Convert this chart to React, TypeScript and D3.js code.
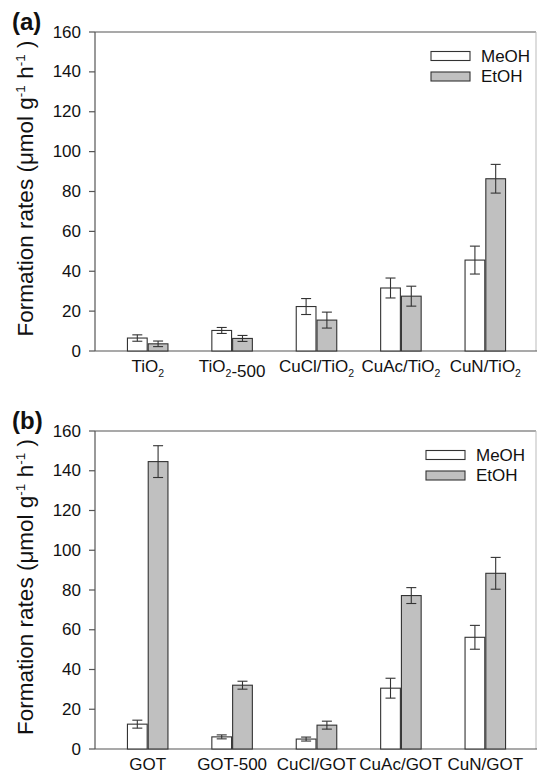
import React from 'react';
import * as d3 from 'd3';

// series names
const series = ['MeOH', 'EtOH'];

// panel (a): TiO2 supports
const categoriesA = ['TiO2', 'TiO2-500', 'CuCl/TiO2', 'CuAc/TiO2', 'CuN/TiO2'];
const meohA = [6.5, 10.3, 22.3, 31.6, 45.6];
const meohErrA = [1.6, 1.5, 4, 5, 7];
const etohA = [3.6, 6.3, 15.5, 27.5, 86.4];
const etohErrA = [1.4, 1.5, 4, 5, 7.2];

// panel (b): GOT supports
const categoriesB = ['GOT', 'GOT-500', 'CuCl/GOT', 'CuAc/GOT', 'CuN/GOT'];
const meohB = [12.5, 6.1, 5, 30.6, 56.2];
const meohErrB = [2, 1, 1, 5, 6];
const etohB = [144.6, 32.1, 12, 77.2, 88.4];
const etohErrB = [8, 2, 2, 4, 8];

// y axis ticks
const yTicks = [0, 20, 40, 60, 80, 100, 120, 140, 160];

const W = 537;
const H = 773;
const font = 'Arial, "Liberation Sans", Helvetica, sans-serif';
const fills = ['#ffffff', '#c0c0c0'];

// turns "TiO2" into TiO with a subscript 2
const renderLabel = (label: string) => {
  const parts = label.split(/(?<=TiO)2/);
  const out: React.ReactNode[] = [];
  parts.forEach((p, i) => {
    out.push(<tspan key={'p' + i}>{p}</tspan>);
    if (i < parts.length - 1) {
      out.push(
        <tspan key={'s' + i} fontSize={10.5} dy={4.5}>
          2
        </tspan>
      );
      out.push(<tspan key={'r' + i} dy={-4.5}></tspan>);
    }
  });
  return out;
};

type PanelProps = {
  tag: string;
  top: number;
  bottom: number;
  legendX: number;
  categories: string[];
  meoh: number[];
  meohErr: number[];
  etoh: number[];
  etohErr: number[];
};

const Panel = ({ tag, top, bottom, legendX, categories, meoh, meohErr, etoh, etohErr }: PanelProps) => {
  const left = 95;
  const right = 536;

  const x = d3
    .scaleBand()
    .domain(categories)
    .range([105.5, 527.5])
    .paddingInner(0.52)
    .paddingOuter(0.26);

  const xInner = d3
    .scaleBand()
    .domain(series)
    .range([0, x.bandwidth()])
    .paddingInner(0.05);

  const y = d3.scaleLinear().domain([0, 160]).range([bottom, top]);

  const rows = categories.map((c, i) => ({
    cat: c,
    values: [
      { s: 'MeOH', v: meoh[i], e: meohErr[i] },
      { s: 'EtOH', v: etoh[i], e: etohErr[i] },
    ],
  }));

  const cap = 5;

  return (
    <g>
      {/* panel tag */}
      <text x={12} y={top - 2} fontSize={24} fontWeight="bold" fontFamily={font} fill="#111">
        {tag}
      </text>

      {/* y axis title */}
      <text
        transform={`translate(33, ${(top + bottom) / 2 - 3}) rotate(-90)`}
        textAnchor="middle"
        fontSize={22.5}
        fontFamily={font}
        fill="#111"
      >
        Formation rates (μmol g
        <tspan fontSize={13.5} dy={-8.5}>-1</tspan>
        <tspan dy={8.5}> h</tspan>
        <tspan fontSize={13.5} dy={-8.5}>-1</tspan>
        <tspan dy={8.5}> )</tspan>
      </text>

      {/* frame */}
      <line x1={left} x2={right} y1={top} y2={top} stroke="#555" strokeWidth={1.2} />
      <line x1={right} x2={right} y1={top} y2={bottom} stroke="#bbb" strokeWidth={1} />
      <line x1={left} x2={left} y1={top} y2={bottom} stroke="#555" strokeWidth={1.2} />
      <line x1={left} x2={right + 1} y1={bottom} y2={bottom} stroke="#555" strokeWidth={1.2} />

      {/* y ticks */}
      {yTicks.map((t) => (
        <g key={t} transform={`translate(0, ${y(t)})`}>
          <line x1={left - 6} x2={left} stroke="#555" strokeWidth={1.2} />
          <text
            x={81}
            textAnchor="end"
            dominantBaseline="central"
            fontSize={17}
            fontFamily={font}
            fill="#111"
          >
            {t}
          </text>
        </g>
      ))}

      {/* bars */}
      {rows.map((r) => (
        <g key={r.cat} transform={`translate(${x(r.cat)}, 0)`}>
          {r.values.map((d, j) => {
            const bx = xInner(d.s)!;
            const cx = bx + xInner.bandwidth() / 2;
            return (
              <g key={d.s}>
                <rect
                  x={bx}
                  y={y(d.v)}
                  width={xInner.bandwidth()}
                  height={bottom - y(d.v)}
                  fill={fills[j]}
                  stroke="#333"
                  strokeWidth={1.1}
                />
                <line x1={cx} x2={cx} y1={y(d.v + d.e)} y2={y(d.v - d.e)} stroke="#333" strokeWidth={1.1} />
                <line x1={cx - cap} x2={cx + cap} y1={y(d.v + d.e)} y2={y(d.v + d.e)} stroke="#333" strokeWidth={1.1} />
                <line x1={cx - cap} x2={cx + cap} y1={y(d.v - d.e)} y2={y(d.v - d.e)} stroke="#333" strokeWidth={1.1} />
              </g>
            );
          })}
          <text
            x={x.bandwidth() / 2}
            y={bottom + 21}
            textAnchor="middle"
            fontSize={17}
            fontFamily={font}
            fill="#111"
          >
            {renderLabel(r.cat)}
          </text>
        </g>
      ))}

      {/* legend */}
      {series.map((s, j) => (
        <g key={s} transform={`translate(${legendX}, ${top + 24 + j * 20.5})`}>
          <rect x={0} y={-4.5} width={39} height={9} fill={fills[j]} stroke="#333" strokeWidth={1.1} />
          <text x={50} dominantBaseline="central" fontSize={17} fontFamily={font} fill="#111">
            {s}
          </text>
        </g>
      ))}
    </g>
  );
};

const App = () => {
  return (
    <svg
      width={W}
      height={H}
      style={{ position: 'absolute', left: 0, top: 0, background: '#fff' }}
    >
      <rect width={W} height={H} fill="#fff" />
      <Panel
        tag="(a)"
        top={32}
        bottom={351}
        legendX={431}
        categories={categoriesA}
        meoh={meohA}
        meohErr={meohErrA}
        etoh={etohA}
        etohErr={etohErrA}
      />
      <Panel
        tag="(b)"
        top={431}
        bottom={749}
        legendX={426}
        categories={categoriesB}
        meoh={meohB}
        meohErr={meohErrB}
        etoh={etohB}
        etohErr={etohErrB}
      />
    </svg>
  );
};

export default App;
